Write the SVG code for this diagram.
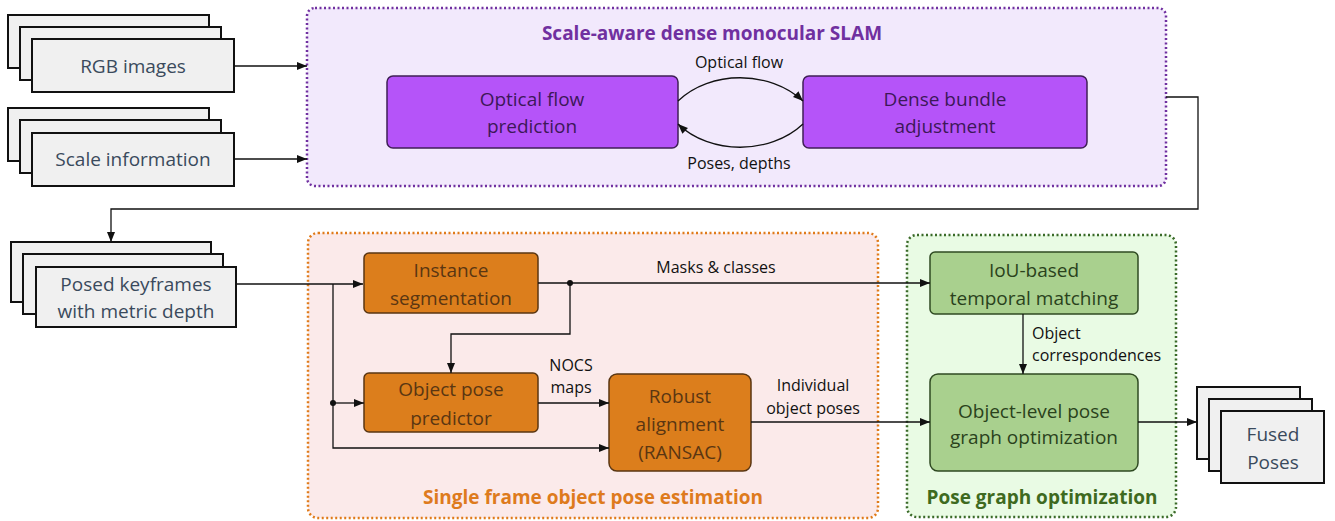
<svg xmlns="http://www.w3.org/2000/svg" width="1335" height="521" viewBox="0 0 1335 521">
<style>
text{font-family:"Open Sans","Noto Sans",sans-serif;text-anchor:middle}
.inp{fill:#f0f0f0;stroke:#111;stroke-width:2}
.it{font-size:19px;fill:#3a4a5c}
.pb{fill:#b554f9;stroke:#3f1f55;stroke-width:1.5}
.pt{font-size:19px;fill:#3d1858}
.ob{fill:#dc7e1c;stroke:#5a3612;stroke-width:1.5}
.ot{font-size:19px;fill:#5a3612}
.gb{fill:#a9d08e;stroke:#2f4a22;stroke-width:1.5}
.gt{font-size:19px;fill:#2a421c}
.lbl{font-size:16px;fill:#111}
.ttl{font-size:19px;font-weight:bold}
.c{fill:none;stroke:#111;stroke-width:1.3}
</style>
<defs>
<marker id="ah" viewBox="0 0 10 10" refX="10" refY="5" markerWidth="10" markerHeight="10" markerUnits="userSpaceOnUse" orient="auto">
<path d="M0,1 L10,5 L0,9 Z" fill="#111"/>
</marker>
</defs>

<g id="slam-group">
<rect x="307" y="8" width="859" height="178" rx="8" fill="#f2e9fc" stroke="#7030a0" stroke-width="2.5" stroke-dasharray="2 2.5"/>
<text class="ttl" x="712" y="40" fill="#7030a0">Scale-aware dense monocular SLAM</text>
</g>
<g id="spe-group">
<rect x="308" y="233" width="570" height="285" rx="10" fill="#fbeaea" stroke="#e07b1a" stroke-width="2.5" stroke-dasharray="2 2.5"/>
<text class="ttl" x="593" y="504" fill="#de7b1d">Single frame object pose estimation</text>
</g>
<g id="pgo-group">
<rect x="907" y="235" width="269" height="282" rx="10" fill="#e9fbe4" stroke="#3a6a28" stroke-width="2.5" stroke-dasharray="2 2.5"/>
<text class="ttl" x="1042" y="504" fill="#3e6a20">Pose graph optimization</text>
</g>

<g id="rgb">
<rect class="inp" x="8" y="15" width="201" height="53"/>
<rect class="inp" x="20" y="27" width="201" height="53"/>
<rect class="inp" x="32" y="39" width="202" height="53"/>
<text class="it" x="133" y="73">RGB images</text>
</g>
<g id="scale">
<rect class="inp" x="8" y="108" width="201" height="53"/>
<rect class="inp" x="20" y="120" width="201" height="53"/>
<rect class="inp" x="32" y="133" width="202" height="53"/>
<text class="it" x="133" y="166">Scale information</text>
</g>
<g id="optflow">
<rect class="pb" x="387" y="76" width="291" height="72" rx="6"/>
<text class="pt" x="532" y="106">Optical flow</text>
<text class="pt" x="532" y="133">prediction</text>
</g>
<g id="dba">
<rect class="pb" x="803" y="76" width="284" height="72" rx="6"/>
<text class="pt" x="945" y="106">Dense bundle</text>
<text class="pt" x="945" y="133">adjustment</text>
</g>
<g id="keyframes">
<rect class="inp" x="11" y="242" width="200" height="60"/>
<rect class="inp" x="23" y="254" width="200" height="60"/>
<rect class="inp" x="36" y="267" width="200" height="60"/>
<text class="it" x="136" y="291">Posed keyframes</text>
<text class="it" x="136" y="318">with metric depth</text>
</g>
<g id="instseg">
<rect class="ob" x="364" y="253" width="174" height="60" rx="5"/>
<text class="ot" x="451" y="277">Instance</text>
<text class="ot" x="451" y="305">segmentation</text>
</g>
<g id="posepred">
<rect class="ob" x="364" y="373" width="174" height="59" rx="5"/>
<text class="ot" x="451" y="396">Object pose</text>
<text class="ot" x="451" y="425">predictor</text>
</g>
<g id="ransac">
<rect class="ob" x="609" y="374" width="142" height="97" rx="8"/>
<text class="ot" x="680" y="403">Robust</text>
<text class="ot" x="680" y="431">alignment</text>
<text class="ot" x="680" y="459">(RANSAC)</text>
</g>
<g id="iou">
<rect class="gb" x="930" y="252" width="208" height="62" rx="5"/>
<text class="gt" x="1034" y="277">IoU-based</text>
<text class="gt" x="1034" y="305">temporal matching</text>
</g>
<g id="objpgo">
<rect class="gb" x="930" y="374" width="208" height="97" rx="8"/>
<text class="gt" x="1034" y="418">Object-level pose</text>
<text class="gt" x="1034" y="444">graph optimization</text>
</g>
<g id="fused">
<rect class="inp" x="1197" y="387" width="103" height="72"/>
<rect class="inp" x="1209" y="399" width="103" height="72"/>
<rect class="inp" x="1221" y="411" width="103" height="72"/>
<text class="it" x="1273" y="441">Fused</text>
<text class="it" x="1273" y="469">Poses</text>
</g>

<g id="connectors">
<path class="c" d="M234,66 H307" marker-end="url(#ah)"/>
<path class="c" d="M234,159 H307" marker-end="url(#ah)"/>
<path class="c" d="M678,101 C710,70 770,70 803,101" marker-end="url(#ah)"/>
<path class="c" d="M803,124 C770,155 710,155 678,124" marker-end="url(#ah)"/>
<path class="c" d="M1166,97 H1198 V209 H111 V242" marker-end="url(#ah)"/>
<path class="c" d="M236,284 H363" marker-end="url(#ah)"/>
<path class="c" d="M333,284 V448 H609" marker-end="url(#ah)"/>
<path class="c" d="M333,403 H364" marker-end="url(#ah)"/>
<circle cx="333" cy="403" r="3" fill="#111"/>
<path class="c" d="M538,283 H930" marker-end="url(#ah)"/>
<circle cx="570" cy="283" r="3" fill="#111"/>
<path class="c" d="M570,283 V334 H451 V373" marker-end="url(#ah)"/>
<path class="c" d="M538,403 H609" marker-end="url(#ah)"/>
<path class="c" d="M751,422 H930" marker-end="url(#ah)"/>
<path class="c" d="M1023,314 V374" marker-end="url(#ah)"/>
<path class="c" d="M1138,422 H1197" marker-end="url(#ah)"/>
<text class="lbl" x="739" y="68">Optical flow</text>
<text class="lbl" x="739" y="169">Poses, depths</text>
<text class="lbl" x="716" y="273">Masks &amp; classes</text>
<text class="lbl" x="571" y="371">NOCS</text>
<text class="lbl" x="571" y="393">maps</text>
<text class="lbl" x="813" y="391">Individual</text>
<text class="lbl" x="813" y="414">object poses</text>
<text class="lbl" x="1032" y="339" style="text-anchor:start">Object</text>
<text class="lbl" x="1032" y="361" style="text-anchor:start">correspondences</text>
</g>
</svg>
